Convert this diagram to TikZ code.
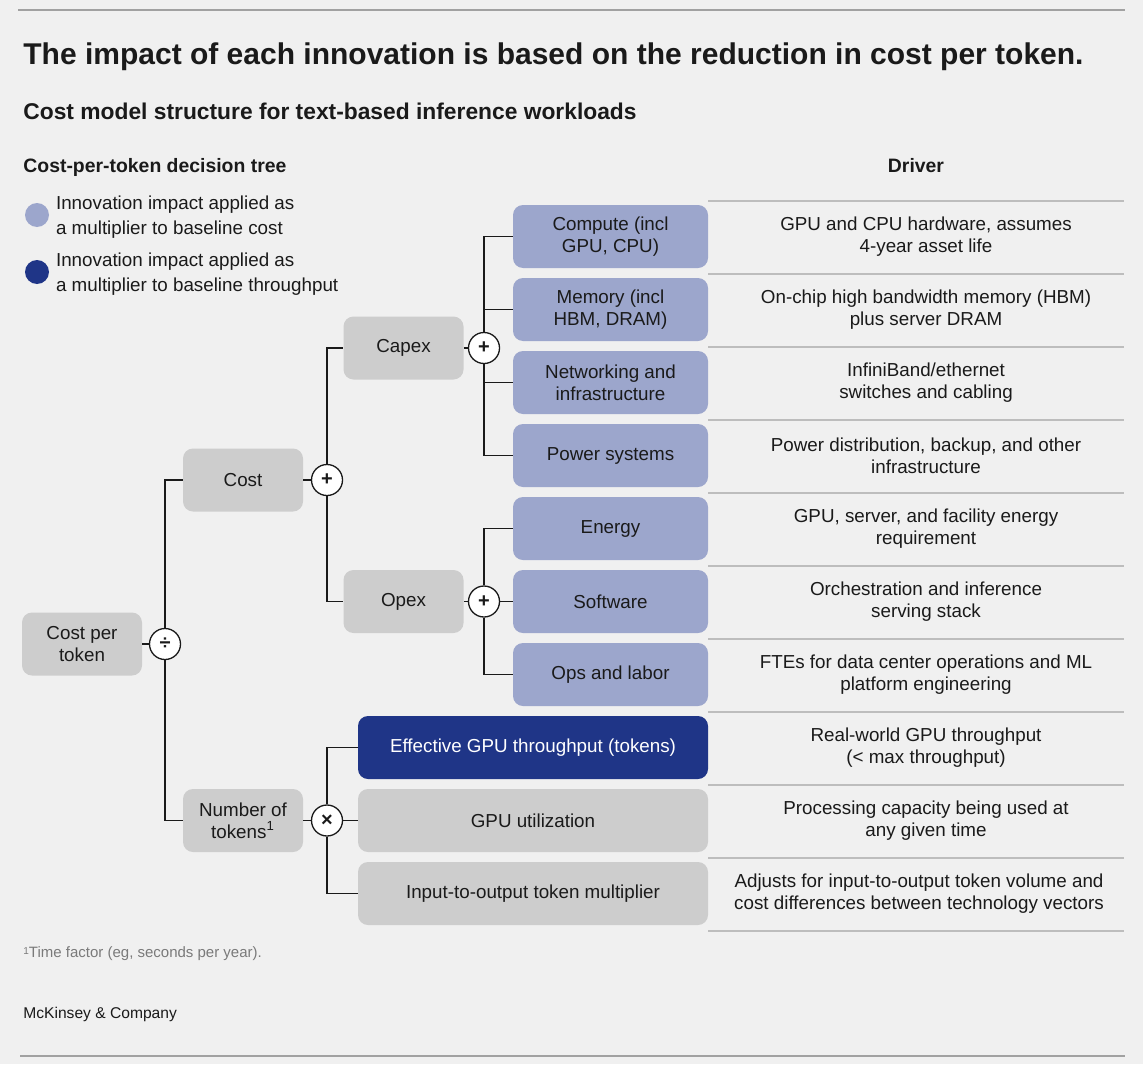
\documentclass[tikz,border=0pt]{standalone}
\usepackage{fontspec}
\setmainfont{Liberation Sans}
\usetikzlibrary{positioning}
\definecolor{paper}{HTML}{F0F0F0}
\definecolor{ink}{HTML}{1A1A1A}
\definecolor{boxgrey}{HTML}{CDCDCD}
\definecolor{costblue}{HTML}{9CA6CC}
\definecolor{navy}{HTML}{1F3587}
\definecolor{rulegrey}{HTML}{BDBDBD}
\definecolor{notegrey}{HTML}{7A7A7A}
\newcommand{\fntbody}{\fontsize{9.4}{11}\selectfont}
\newcommand{\fntlegend}{\fontsize{9.4}{12.5}\selectfont}
\newcommand{\fnttitle}{\fontsize{15}{18}\selectfont\bfseries}
\newcommand{\fntsub}{\fontsize{11.4}{14}\selectfont\bfseries}
\newcommand{\fnthead}{\fontsize{9.7}{12}\selectfont\bfseries}
\newcommand{\fntnote}{\fontsize{7.5}{9}\selectfont}

\begin{document}
\begin{tikzpicture}[
  x=0.5pt, y=-0.5pt,
  every node/.style={font=\fntbody, text=ink},
  treebox/.style={rounded corners=5pt, minimum height=31.5pt, align=center, inner sep=0pt},
  greybox/.style={treebox, fill=boxgrey, minimum width=60pt},
  costbox/.style={treebox, fill=costblue, minimum width=97.5pt},
  widebox/.style={treebox, minimum width=175pt},
  opnode/.style={circle, draw=ink, fill=white, line width=0.65pt, minimum size=15.5pt, inner sep=0pt, font=\bfseries\fontsize{10}{12}\selectfont},
  link/.style={draw=ink, line width=0.75pt},
  divider/.style={draw=rulegrey, line width=0.7pt}
]
  \path[use as bounding box, fill=paper] (0,0) rectangle (1143,1064);

  % rules and headings
  \draw[rulegrey!85!black, line width=0.6pt] (18,10) -- (1125,10);
  \draw[rulegrey!85!black, line width=0.6pt] (20,1056) -- (1125,1056);
  \node[font=\fnttitle, anchor=base west, inner sep=0pt] (title) at (23,65)
    {The impact of each innovation is based on the reduction in cost per token.};
  \node[font=\fntsub, anchor=base west, inner sep=0pt] (subtitle) at (23,120)
    {Cost model structure for text-based inference workloads};
  \node[font=\fnthead, anchor=base west, inner sep=0pt] (treehead) at (23,173)
    {Cost-per-token decision tree};
  \node[font=\fnthead, anchor=base, inner sep=0pt] (drvhead) at (916,173) {Driver};

  % legend
  \node[circle, fill=costblue, minimum size=12pt, inner sep=0pt] (keycost) at (37,215) {};
  \node[font=\fntlegend, anchor=west, align=left] (keycosttxt) at (49,217)
    {Innovation impact applied as\\a multiplier to baseline cost};
  \node[circle, fill=navy, minimum size=12pt, inner sep=0pt] (keytput) at (37,272) {};
  \node[font=\fntlegend, anchor=west, align=left] (keytputtxt) at (49,274)
    {Innovation impact applied as\\a multiplier to baseline throughput};

  % tree: left part
  \node[greybox] (ctp) at (82,644) {Cost per\\token};
  \node[opnode] (div) at (165,644) {÷};
  \node[greybox] (cost) at (243,480) {Cost};
  \node[opnode] (plA) at (327,480) {+};
  \node[greybox] (capex) at (403.5,348) {Capex};
  \node[opnode] (plB) at (484,348) {+};
  \node[greybox] (opex) at (403.5,601.5) {Opex};
  \node[opnode] (plC) at (484,601.5) {+};
  \node[greybox] (ntok) at (243,820.5) {Number of\\tokens\textsuperscript{1}};
  \node[opnode] (mul) at (327,820.5) {×};

  % tree: leaves
  \foreach \k/\nm/\lbl in {0/comp/{Compute (incl\\GPU, CPU)}, 1/mem/{Memory (incl\\HBM, DRAM)},
      2/net/{Networking and\\infrastructure}, 3/pow/{Power systems}, 4/ene/{Energy},
      5/soft/{Software}, 6/ops/{Ops and labor}}
    \node[costbox] (\nm) at (610.5,{236.5+73*\k}) {\lbl};
  \node[widebox, fill=navy, text=white] (eff) at (533,747.5) {Effective GPU throughput (tokens)};
  \node[widebox, fill=boxgrey] (util) at (533,820.5) {GPU utilization};
  \node[widebox, fill=boxgrey] (io) at (533,893.5) {Input-to-output token multiplier};

  % connectors
  \draw[link] (ctp) -- (div);
  \draw[link] (div.north) |- (cost.west);
  \draw[link] (div.south) |- (ntok.west);
  \draw[link] (cost) -- (plA);
  \draw[link] (plA.north) |- (capex.west);
  \draw[link] (plA.south) |- (opex.west);
  \draw[link] (capex) -- (plB);
  \draw[link] (plB.north) |- (comp.west);
  \draw[link] (plB.north) |- (mem.west);
  \draw[link] (plB.south) |- (net.west);
  \draw[link] (plB.south) |- (pow.west);
  \draw[link] (opex) -- (plC);
  \draw[link] (plC.north) |- (ene.west);
  \draw[link] (plC) -- (soft);
  \draw[link] (plC.south) |- (ops.west);
  \draw[link] (ntok) -- (mul);
  \draw[link] (mul.north) |- (eff.west);
  \draw[link] (mul) -- (util);
  \draw[link] (mul.south) |- (io.west);

  % driver column
  \foreach \k in {0,...,10}
    \draw[divider] (708,{201+73*\k}) -- (1124,{201+73*\k});
  \foreach \k/\cx/\txt in {0/926/{GPU and CPU hardware, assumes\\4-year asset life},
      1/926/{On-chip high bandwidth memory (HBM)\\plus server DRAM},
      2/926/{InfiniBand/ethernet\\switches and cabling},
      3/926/{Power distribution, backup, and other\\infrastructure},
      4/926/{GPU, server, and facility energy\\requirement},
      5/926/{Orchestration and inference\\serving stack},
      6/926/{FTEs for data center operations and ML\\platform engineering},
      7/926/{Real-world GPU throughput\\(< max throughput)},
      8/926/{Processing capacity being used at\\any given time},
      9/919/{Adjusts for input-to-output token volume and\\cost differences between technology vectors}}
    \node[align=center] (drv\k) at (\cx,{236.5+73*\k}) {\txt};

  % footer
  \node[font=\fntnote, text=notegrey, anchor=base west, inner sep=0pt] (note) at (23,957)
    {\raisebox{0.35ex}{\fontsize{5}{6}\selectfont 1}Time factor (eg, seconds per year).};
  \node[font=\fontsize{7.8}{9}\selectfont, anchor=base west, inner sep=0pt] (brand) at (23,1018)
    {McKinsey \& Company};
\end{tikzpicture}
\end{document}
